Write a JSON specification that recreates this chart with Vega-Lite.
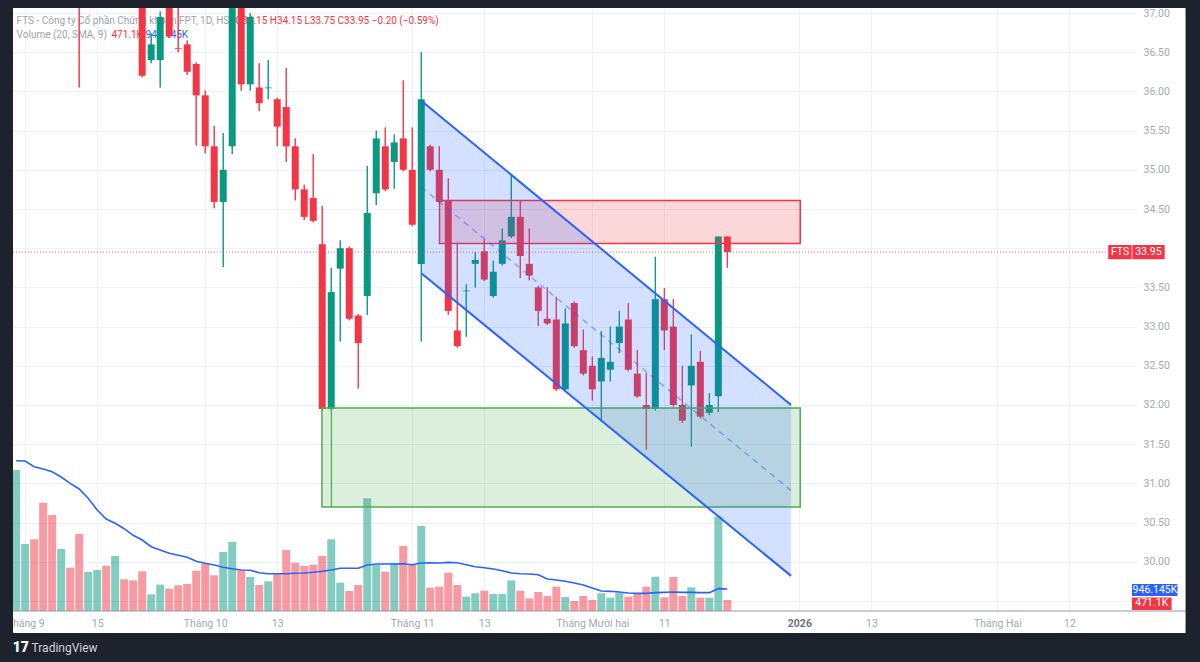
{
  "$schema": "https://vega.github.io/schema/vega-lite/v6.json",
  "width": 1129,
  "height": 603,
  "autosize": {"type": "none"},
  "padding": {"left": 8, "top": 8, "right": 63, "bottom": 51},
  "background": "#ffffff",
  "config": {
    "view": {"stroke": null},
    "font": "Roboto",
    "text": {"font": "Roboto"}
  },
  "datasets": {
    "bars": [
      {"t":-44,"d":"2025-08-29","o":37.6,"h":38.4,"l":37.4,"c":38.2,"v":6049000,"s":6448000},
      {"t":-43,"d":"2025-09-03","o":38.0,"h":38.8,"l":37.8,"c":38.5,"v":2874000,"s":6435000},
      {"t":-42,"d":"2025-09-04","o":38.6,"h":38.9,"l":37.9,"c":38.1,"v":3076000,"s":6190000},
      {"t":-41,"d":"2025-09-05","o":38.2,"h":38.3,"l":37.3,"c":37.5,"v":4646000,"s":6092000},
      {"t":-40,"d":"2025-09-08","o":37.6,"h":37.9,"l":37.2,"c":37.3,"v":4118000,"s":5976000},
      {"t":-39,"d":"2025-09-09","o":37.3,"h":37.9,"l":37.2,"c":37.7,"v":2660000,"s":5749000},
      {"t":-38,"d":"2025-09-10","o":37.8,"h":37.9,"l":37.3,"c":37.5,"v":1858000,"s":5478000},
      {"t":-37,"d":"2025-09-11","o":37.6,"h":37.8,"l":36.05,"c":37.2,"v":3303000,"s":5234000},
      {"t":-36,"d":"2025-09-12","o":37.3,"h":37.7,"l":37.2,"c":37.6,"v":1673000,"s":4835000},
      {"t":-35,"d":"2025-09-15","o":37.5,"h":37.9,"l":37.3,"c":37.8,"v":1759000,"s":4333000},
      {"t":-34,"d":"2025-09-16","o":37.8,"h":37.9,"l":37.4,"c":37.6,"v":1944000,"s":3947000},
      {"t":-33,"d":"2025-09-17","o":37.6,"h":38.0,"l":37.5,"c":37.9,"v":2360000,"s":3762000},
      {"t":-32,"d":"2025-09-18","o":37.9,"h":38.0,"l":37.5,"c":37.6,"v":1359000,"s":3531000},
      {"t":-31,"d":"2025-09-19","o":37.7,"h":37.8,"l":37.3,"c":37.4,"v":1316000,"s":3248000},
      {"t":-30,"d":"2025-09-22","o":37.5,"h":37.6,"l":36.18,"c":36.2,"v":1702000,"s":3046000},
      {"t":-29,"d":"2025-09-23","o":36.4,"h":36.74,"l":36.36,"c":36.6,"v":716000,"s":2758000},
      {"t":-28,"d":"2025-09-24","o":36.4,"h":37.02,"l":36.05,"c":36.95,"v":1130000,"s":2617000},
      {"t":-27,"d":"2025-09-25","o":37.4,"h":37.5,"l":36.68,"c":36.7,"v":958000,"s":2475000},
      {"t":-26,"d":"2025-09-26","o":36.55,"h":37.3,"l":36.5,"c":36.54,"v":1101000,"s":2390000},
      {"t":-25,"d":"2025-09-29","o":36.6,"h":36.65,"l":36.21,"c":36.25,"v":1158000,"s":2304000},
      {"t":-24,"d":"2025-09-30","o":36.35,"h":36.37,"l":35.31,"c":35.95,"v":1730000,"s":2132000},
      {"t":-23,"d":"2025-10-01","o":35.95,"h":36.01,"l":35.21,"c":35.3,"v":2045000,"s":2046000},
      {"t":-22,"d":"2025-10-02","o":35.3,"h":35.56,"l":34.51,"c":34.59,"v":1530000,"s":1973000},
      {"t":-21,"d":"2025-10-03","o":34.59,"h":35.47,"l":33.76,"c":35.0,"v":2531000,"s":1875000},
      {"t":-20,"d":"2025-10-06","o":35.3,"h":37.5,"l":35.2,"c":37.3,"v":2960000,"s":1815000},
      {"t":-19,"d":"2025-10-07","o":37.3,"h":37.4,"l":36.01,"c":36.09,"v":1730000,"s":1759000},
      {"t":-18,"d":"2025-10-08","o":36.09,"h":37.0,"l":36.01,"c":36.95,"v":1459000,"s":1746000},
      {"t":-17,"d":"2025-10-09","o":36.05,"h":36.36,"l":35.75,"c":35.85,"v":1115000,"s":1643000},
      {"t":-16,"d":"2025-10-10","o":36.04,"h":36.4,"l":35.9,"c":36.05,"v":1273000,"s":1600000},
      {"t":-15,"d":"2025-10-13","o":35.9,"h":35.92,"l":35.3,"c":35.55,"v":1616000,"s":1600000},
      {"t":-14,"d":"2025-10-14","o":35.8,"h":36.3,"l":35.1,"c":35.3,"v":2617000,"s":1600000},
      {"t":-13,"d":"2025-10-15","o":35.3,"h":35.4,"l":34.61,"c":34.75,"v":2073000,"s":1617000},
      {"t":-12,"d":"2025-10-16","o":34.75,"h":34.81,"l":34.36,"c":34.4,"v":1930000,"s":1630000},
      {"t":-11,"d":"2025-10-17","o":34.64,"h":35.2,"l":34.33,"c":34.35,"v":1988000,"s":1660000},
      {"t":-10,"d":"2025-10-20","o":34.05,"h":34.54,"l":31.93,"c":31.95,"v":2360000,"s":1703000},
      {"t":-9,"d":"2025-10-21","o":31.95,"h":33.75,"l":31.93,"c":33.44,"v":3076000,"s":1759000},
      {"t":-8,"d":"2025-10-22","o":33.74,"h":34.1,"l":32.81,"c":34.0,"v":1216000,"s":1832000},
      {"t":-7,"d":"2025-10-23","o":34.0,"h":34.02,"l":33.08,"c":33.1,"v":858000,"s":1832000},
      {"t":-6,"d":"2025-10-24","o":33.14,"h":33.16,"l":32.21,"c":32.79,"v":1115000,"s":1832000},
      {"t":-5,"d":"2025-10-27","o":33.39,"h":35.05,"l":33.15,"c":34.45,"v":4833000,"s":1973000},
      {"t":-4,"d":"2025-10-28","o":34.7,"h":35.5,"l":34.55,"c":35.4,"v":1973000,"s":2016000},
      {"t":-3,"d":"2025-10-29","o":35.3,"h":35.54,"l":34.73,"c":34.75,"v":1687000,"s":2016000},
      {"t":-2,"d":"2025-10-30","o":35.1,"h":35.45,"l":34.76,"c":35.35,"v":2045000,"s":2016000},
      {"t":-1,"d":"2025-10-31","o":35.4,"h":36.14,"l":34.98,"c":35.0,"v":2789000,"s":2030000},
      {"t":0,"d":"2025-11-03","o":35.0,"h":35.54,"l":34.28,"c":34.3,"v":1988000,"s":1987000},
      {"t":1,"d":"2025-11-04","o":33.8,"h":36.5,"l":32.81,"c":35.9,"v":3647000,"s":2059000},
      {"t":2,"d":"2025-11-05","o":35.3,"h":35.32,"l":34.98,"c":35.0,"v":1001000,"s":2073000},
      {"t":3,"d":"2025-11-06","o":35.0,"h":35.3,"l":34.57,"c":34.59,"v":1044000,"s":2059000},
      {"t":4,"d":"2025-11-07","o":34.61,"h":34.89,"l":33.15,"c":33.2,"v":1645000,"s":2088000},
      {"t":5,"d":"2025-11-10","o":32.95,"h":34.07,"l":32.73,"c":32.75,"v":1115000,"s":2073000},
      {"t":6,"d":"2025-11-11","o":33.45,"h":33.54,"l":32.87,"c":33.46,"v":615000,"s":1986000},
      {"t":7,"d":"2025-11-12","o":33.8,"h":33.95,"l":33.5,"c":33.85,"v":758000,"s":1901000},
      {"t":8,"d":"2025-11-13","o":33.96,"h":34.11,"l":33.58,"c":33.6,"v":872000,"s":1858000},
      {"t":9,"d":"2025-11-14","o":33.39,"h":33.84,"l":33.37,"c":33.7,"v":729000,"s":1802000},
      {"t":10,"d":"2025-11-17","o":33.8,"h":34.25,"l":33.78,"c":34.1,"v":729000,"s":1730000},
      {"t":11,"d":"2025-11-18","o":34.15,"h":34.93,"l":34.13,"c":34.4,"v":1316000,"s":1630000},
      {"t":12,"d":"2025-11-19","o":34.4,"h":34.61,"l":33.62,"c":33.9,"v":872000,"s":1600000},
      {"t":13,"d":"2025-11-20","o":33.8,"h":34.25,"l":33.59,"c":33.65,"v":543000,"s":1586000},
      {"t":14,"d":"2025-11-21","o":33.5,"h":33.52,"l":33.01,"c":33.2,"v":815000,"s":1558000},
      {"t":15,"d":"2025-11-24","o":33.1,"h":33.5,"l":33.02,"c":33.04,"v":644000,"s":1373000},
      {"t":16,"d":"2025-11-25","o":33.09,"h":33.38,"l":32.18,"c":32.2,"v":1044000,"s":1330000},
      {"t":17,"d":"2025-11-26","o":32.2,"h":33.23,"l":32.18,"c":33.04,"v":601000,"s":1273000},
      {"t":18,"d":"2025-11-27","o":33.3,"h":33.32,"l":32.73,"c":32.75,"v":429000,"s":1201000},
      {"t":19,"d":"2025-11-28","o":32.7,"h":32.96,"l":32.38,"c":32.4,"v":644000,"s":1115000},
      {"t":20,"d":"2025-12-01","o":32.5,"h":32.62,"l":32.06,"c":32.2,"v":472000,"s":987000},
      {"t":21,"d":"2025-12-02","o":32.3,"h":32.94,"l":31.79,"c":32.6,"v":758000,"s":858000},
      {"t":22,"d":"2025-12-03","o":32.45,"h":33.0,"l":32.3,"c":32.55,"v":572000,"s":844000},
      {"t":23,"d":"2025-12-04","o":32.79,"h":33.2,"l":32.66,"c":33.0,"v":787000,"s":815000},
      {"t":24,"d":"2025-12-05","o":33.09,"h":33.3,"l":32.43,"c":32.45,"v":615000,"s":772000},
      {"t":25,"d":"2025-12-08","o":32.4,"h":32.7,"l":32.09,"c":32.11,"v":729000,"s":758000},
      {"t":26,"d":"2025-12-09","o":32.0,"h":32.41,"l":31.43,"c":31.95,"v":1044000,"s":758000},
      {"t":27,"d":"2025-12-10","o":31.95,"h":33.89,"l":31.93,"c":33.35,"v":1473000,"s":787000},
      {"t":28,"d":"2025-12-11","o":33.35,"h":33.49,"l":32.7,"c":32.95,"v":586000,"s":800000},
      {"t":29,"d":"2025-12-12","o":33.0,"h":33.35,"l":31.98,"c":32.0,"v":1459000,"s":815000},
      {"t":30,"d":"2025-12-15","o":32.0,"h":32.5,"l":31.77,"c":31.8,"v":644000,"s":800000},
      {"t":31,"d":"2025-12-16","o":32.25,"h":32.9,"l":31.47,"c":32.5,"v":1015000,"s":800000},
      {"t":32,"d":"2025-12-17","o":32.55,"h":32.69,"l":31.83,"c":31.85,"v":572000,"s":787000},
      {"t":33,"d":"2025-12-18","o":31.9,"h":32.15,"l":31.87,"c":32.0,"v":572000,"s":787000},
      {"t":34,"d":"2025-12-19","o":32.11,"h":34.15,"l":31.91,"c":34.15,"v":4047000,"s":958000},
      {"t":35,"d":"2025-12-22","o":34.15,"h":34.15,"l":33.75,"c":33.95,"v":471100,"s":946145}
    ],
    "channel": [
      {"t":1.0,"up":35.88,"mid":34.78,"lo":33.68},
      {"t":42.08,"up":32.0,"mid":30.91,"lo":29.82}
    ],
    "zones": [
      {"zone":"resistance","t":3.03,"t2":43.1,"top":34.61,"bottom":34.06},
      {"zone":"support","t":-10.03,"t2":43.1,"top":31.96,"bottom":30.7}
    ]
  },
  "resolve": {"scale": {"y": "independent"}, "axis": {"y": "independent", "x": "independent"}},
  "layer": [
    {
      "data": {"name": "bars"},
      "mark": {"type": "rule", "strokeWidth": 1, "clip": true},
      "encoding": {
        "x": {
          "field": "t", "type": "quantitative",
          "scale": {"domain": [-44.35, 79.95], "nice": false, "zero": false},
          "axis": {
            "title": null,
            "orient": "bottom",
            "values": [-43, -35, -23, -15, 0, 8, 20, 28, 43, 51, 65, 73],
            "labelExpr": "datum.value == -43 ? 'Tháng 9' : datum.value == -35 ? '15' : datum.value == -23 ? 'Tháng 10' : datum.value == -15 ? '13' : datum.value == 0 ? 'Tháng 11' : datum.value == 8 ? '13' : datum.value == 20 ? 'Tháng Mười hai' : datum.value == 28 ? '11' : datum.value == 43 ? '2026' : datum.value == 51 ? '13' : datum.value == 65 ? 'Tháng Hai' : '12'",
            "grid": true,
            "gridColor": "#eef1f7",
            "domain": false,
            "ticks": false,
            "labelPadding": 7,
            "labelFontSize": 10.5,
            "labelFont": "Roboto",
            "labelColor": {"condition": {"test": "datum.value == 43", "value": "#70737d"}, "value": "#a5a8b1"},
            "labelFontWeight": {"condition": {"test": "datum.value == 43", "value": "bold"}, "value": "normal"},
            "labelOverlap": false,
            "labelFlush": false,
            "labelBound": false
          }
        },
        "y": {
          "field": "l", "type": "quantitative",
          "scale": {"domain": [29.372, 37.064], "nice": false, "zero": false},
          "axis": {
            "title": null,
            "orient": "right",
            "values": [29.5, 30, 30.5, 31, 31.5, 32, 32.5, 33, 33.5, 34, 34.5, 35, 35.5, 36, 36.5, 37],
            "labelExpr": "datum.value == 29.5 || datum.value == 34 ? '' : format(datum.value, '.2f')",
            "grid": true,
            "gridColor": "#eef1f7",
            "domain": false,
            "ticks": false,
            "labelPadding": 6,
            "labelFontSize": 10.5,
            "labelFont": "Roboto",
            "labelColor": "#a5a8b1",
            "labelAlign": "left",
            "labelOverlap": false,
            "labelFlush": false
          }
        },
        "y2": {"field": "h"},
        "color": {"condition": {"test": "datum.c >= datum.o", "value": "#089981"}, "value": "#f23645"}
      }
    },
    {
      "data": {"name": "bars"},
      "mark": {"type": "bar", "size": 8, "opacity": 0.5, "clip": true},
      "encoding": {
        "x": {"field": "t", "type": "quantitative", "axis": null},
        "y": {"field": "v", "type": "quantitative", "scale": {"domain": [0, 25868700], "nice": false}, "axis": null},
        "color": {"condition": {"test": "datum.c >= datum.o", "value": "#089981"}, "value": "#f23645"}
      }
    },
    {
      "data": {"name": "bars"},
      "mark": {"type": "line", "color": "#2962ff", "strokeWidth": 1.6, "clip": true},
      "encoding": {
        "x": {"field": "t", "type": "quantitative", "axis": null},
        "y": {"field": "s", "type": "quantitative", "scale": {"domain": [0, 25868700], "nice": false}, "axis": null}
      }
    },
    {
      "data": {"values": [{}]},
      "mark": {"type": "rect", "color": "#2962ff", "clip": false},
      "encoding": {
        "x": {"datum": 79.95, "type": "quantitative", "axis": null},
        "x2": {"datum": 85.0},
        "y": {"datum": 1158000, "type": "quantitative", "scale": {"domain": [0, 25868700], "nice": false}, "axis": null},
        "y2": {"datum": 643500}
      }
    },
    {
      "data": {"values": [{}]},
      "mark": {"type": "text", "text": "946.145K", "color": "#ffffff", "fontSize": 10.5, "align": "center", "baseline": "middle", "clip": false},
      "encoding": {
        "x": {"datum": 82.5, "type": "quantitative", "axis": null},
        "y": {"datum": 901000, "type": "quantitative", "scale": {"domain": [0, 25868700], "nice": false}, "axis": null}
      }
    },
    {
      "data": {"values": [{}]},
      "mark": {"type": "rect", "color": "#f23645", "clip": false},
      "encoding": {
        "x": {"datum": 79.95, "type": "quantitative", "axis": null},
        "x2": {"datum": 84.35},
        "y": {"datum": 579000, "type": "quantitative", "scale": {"domain": [0, 25868700], "nice": false}, "axis": null},
        "y2": {"datum": 43000}
      }
    },
    {
      "data": {"values": [{}]},
      "mark": {"type": "text", "text": "471.1K", "color": "#ffffff", "fontSize": 10.5, "align": "center", "baseline": "middle", "clip": false},
      "encoding": {
        "x": {"datum": 82.15, "type": "quantitative", "axis": null},
        "y": {"datum": 322000, "type": "quantitative", "scale": {"domain": [0, 25868700], "nice": false}, "axis": null}
      }
    },
    {
      "data": {"values": [{}]},
      "mark": {"type": "text", "text": "FTS - Công ty Cổ phần Chứng khoán FPT, 1D, HSX", "color": "#9ea1aa", "fontSize": 10, "align": "left", "baseline": "middle"},
      "encoding": {
        "x": {"datum": -43.95, "type": "quantitative", "axis": null},
        "y": {"datum": 36.898, "type": "quantitative", "scale": {"domain": [29.372, 37.064], "nice": false, "zero": false}, "axis": null}
      }
    },
    {
      "data": {"values": [{}]},
      "mark": {"type": "text", "text": "O34.15  H34.15  L33.75  C33.95  −0.20 (−0.59%)", "color": "#f23645", "fontSize": 10, "align": "left", "baseline": "middle"},
      "encoding": {
        "x": {"datum": -19.65, "type": "quantitative", "axis": null},
        "y": {"datum": 36.898, "type": "quantitative", "scale": {"domain": [29.372, 37.064], "nice": false, "zero": false}, "axis": null}
      }
    },
    {
      "data": {"values": [{}]},
      "mark": {"type": "text", "text": "Volume (20, SMA, 9)", "color": "#9ea1aa", "fontSize": 10, "align": "left", "baseline": "middle"},
      "encoding": {
        "x": {"datum": -43.95, "type": "quantitative", "axis": null},
        "y": {"datum": 36.719, "type": "quantitative", "scale": {"domain": [29.372, 37.064], "nice": false, "zero": false}, "axis": null}
      }
    },
    {
      "data": {"values": [{}]},
      "mark": {"type": "text", "text": "471.1K", "color": "#f23645", "fontSize": 10, "align": "left", "baseline": "middle"},
      "encoding": {
        "x": {"datum": -33.41, "type": "quantitative", "axis": null},
        "y": {"datum": 36.719, "type": "quantitative", "scale": {"domain": [29.372, 37.064], "nice": false, "zero": false}, "axis": null}
      }
    },
    {
      "data": {"values": [{}]},
      "mark": {"type": "text", "text": "946.145K", "color": "#2962ff", "fontSize": 10, "align": "left", "baseline": "middle"},
      "encoding": {
        "x": {"datum": -29.63, "type": "quantitative", "axis": null},
        "y": {"datum": 36.719, "type": "quantitative", "scale": {"domain": [29.372, 37.064], "nice": false, "zero": false}, "axis": null}
      }
    },
    {
      "data": {"name": "bars"},
      "mark": {"type": "rule", "strokeWidth": 1, "clip": true},
      "encoding": {
        "x": {"field": "t", "type": "quantitative", "axis": null},
        "y": {"field": "l", "type": "quantitative", "scale": {"domain": [29.372, 37.064], "nice": false, "zero": false}, "axis": null},
        "y2": {"field": "h"},
        "color": {"condition": {"test": "datum.c >= datum.o", "value": "#089981"}, "value": "#f23645"}
      }
    },
    {
      "data": {"name": "bars"},
      "mark": {"type": "bar", "size": 7, "clip": true},
      "encoding": {
        "x": {"field": "t", "type": "quantitative", "axis": null},
        "y": {"field": "o", "type": "quantitative", "scale": {"domain": [29.372, 37.064], "nice": false, "zero": false}, "axis": null},
        "y2": {"field": "c"},
        "color": {"condition": {"test": "datum.c >= datum.o", "value": "#089981"}, "value": "#f23645"}
      }
    },
    {
      "data": {"name": "zones"},
      "mark": {"type": "rect", "fillOpacity": 0.2, "strokeWidth": 1.5, "clip": true},
      "encoding": {
        "x": {"field": "t", "type": "quantitative", "axis": null},
        "x2": {"field": "t2"},
        "y": {"field": "top", "type": "quantitative", "scale": {"domain": [29.372, 37.064], "nice": false, "zero": false}, "axis": null},
        "y2": {"field": "bottom"},
        "fill": {"field": "zone", "type": "nominal", "scale": {"domain": ["resistance", "support"], "range": ["#f23645", "#4caf50"]}, "legend": null},
        "stroke": {"field": "zone", "type": "nominal", "scale": {"domain": ["resistance", "support"], "range": ["#f23645", "#4caf50"]}, "legend": null}
      }
    },
    {
      "data": {"values": [{}]},
      "mark": {"type": "rule", "color": "#4caf50", "strokeWidth": 1.3},
      "encoding": {
        "x": {"datum": -8.98, "type": "quantitative", "axis": null},
        "y": {"datum": 31.96, "type": "quantitative", "scale": {"domain": [29.372, 37.064], "nice": false, "zero": false}, "axis": null},
        "y2": {"datum": 30.7}
      }
    },
    {
      "data": {"name": "channel"},
      "mark": {"type": "area", "color": "#2962ff", "opacity": 0.2, "clip": true},
      "encoding": {
        "x": {"field": "t", "type": "quantitative", "axis": null},
        "y": {"field": "up", "type": "quantitative", "scale": {"domain": [29.372, 37.064], "nice": false, "zero": false}, "axis": null},
        "y2": {"field": "lo"}
      }
    },
    {
      "data": {"name": "channel"},
      "mark": {"type": "line", "color": "#2962ff", "strokeWidth": 2, "clip": true},
      "encoding": {
        "x": {"field": "t", "type": "quantitative", "axis": null},
        "y": {"field": "up", "type": "quantitative", "scale": {"domain": [29.372, 37.064], "nice": false, "zero": false}, "axis": null}
      }
    },
    {
      "data": {"name": "channel"},
      "mark": {"type": "line", "color": "#2962ff", "strokeWidth": 2, "clip": true},
      "encoding": {
        "x": {"field": "t", "type": "quantitative", "axis": null},
        "y": {"field": "lo", "type": "quantitative", "scale": {"domain": [29.372, 37.064], "nice": false, "zero": false}, "axis": null}
      }
    },
    {
      "data": {"name": "channel"},
      "mark": {"type": "line", "color": "#2962ff", "strokeWidth": 1.5, "opacity": 0.45, "strokeDash": [6, 5], "clip": true},
      "encoding": {
        "x": {"field": "t", "type": "quantitative", "axis": null},
        "y": {"field": "mid", "type": "quantitative", "scale": {"domain": [29.372, 37.064], "nice": false, "zero": false}, "axis": null}
      }
    },
    {
      "data": {"values": [{}]},
      "mark": {"type": "rule", "color": "#f23645", "strokeWidth": 1, "strokeDash": [1, 2], "opacity": 0.8},
      "encoding": {
        "x": {"datum": -44.35, "type": "quantitative", "axis": null},
        "x2": {"datum": 77.31},
        "y": {"datum": 33.95, "type": "quantitative", "scale": {"domain": [29.372, 37.064], "nice": false, "zero": false}, "axis": null}
      }
    },
    {
      "data": {"values": [{}]},
      "mark": {"type": "rect", "color": "#f23645", "clip": false},
      "encoding": {
        "x": {"datum": 77.31, "type": "quantitative", "axis": null},
        "x2": {"datum": 83.58},
        "y": {"datum": 34.04, "type": "quantitative", "scale": {"domain": [29.372, 37.064], "nice": false, "zero": false}, "axis": null},
        "y2": {"datum": 33.86}
      }
    },
    {
      "data": {"values": [{}]},
      "mark": {"type": "rule", "color": "#ffffff", "strokeWidth": 1, "opacity": 0.7, "clip": false},
      "encoding": {
        "x": {"datum": 79.95, "type": "quantitative", "axis": null},
        "y": {"datum": 34.04, "type": "quantitative", "scale": {"domain": [29.372, 37.064], "nice": false, "zero": false}, "axis": null},
        "y2": {"datum": 33.86}
      }
    },
    {
      "data": {"values": [{}]},
      "mark": {"type": "text", "text": "FTS", "color": "#ffffff", "fontSize": 10.5, "align": "center", "baseline": "middle", "clip": false},
      "encoding": {
        "x": {"datum": 78.63, "type": "quantitative", "axis": null},
        "y": {"datum": 33.95, "type": "quantitative", "scale": {"domain": [29.372, 37.064], "nice": false, "zero": false}, "axis": null}
      }
    },
    {
      "data": {"values": [{}]},
      "mark": {"type": "text", "text": "33.95", "color": "#ffffff", "fontSize": 10.5, "align": "center", "baseline": "middle", "clip": false},
      "encoding": {
        "x": {"datum": 81.77, "type": "quantitative", "axis": null},
        "y": {"datum": 33.95, "type": "quantitative", "scale": {"domain": [29.372, 37.064], "nice": false, "zero": false}, "axis": null}
      }
    },
    {
      "data": {"values": [{}]},
      "mark": {"type": "rule", "color": "#9598a1", "strokeWidth": 1, "clip": false},
      "encoding": {
        "x": {"datum": -44.35, "type": "quantitative", "axis": null},
        "x2": {"datum": 85.9},
        "y": {"datum": 29.372, "type": "quantitative", "scale": {"domain": [29.372, 37.064], "nice": false, "zero": false}, "axis": null}
      }
    },
    {
      "data": {"values": [{}]},
      "mark": {"type": "rect", "color": "#1e222d", "clip": false},
      "encoding": {
        "x": {"datum": -60, "type": "quantitative", "axis": null},
        "x2": {"datum": 100},
        "y": {"datum": 37.064, "type": "quantitative", "scale": {"domain": [29.372, 37.064], "nice": false, "zero": false}, "axis": null},
        "y2": {"datum": 39}
      }
    },
    {
      "data": {"values": [{}]},
      "mark": {"type": "rect", "color": "#1e222d", "clip": false},
      "encoding": {
        "x": {"datum": -60, "type": "quantitative", "axis": null},
        "x2": {"datum": 100},
        "y": {"datum": 29.092, "type": "quantitative", "scale": {"domain": [29.372, 37.064], "nice": false, "zero": false}, "axis": null},
        "y2": {"datum": 27}
      }
    },
    {
      "data": {"values": [{}]},
      "mark": {"type": "rect", "color": "#1e222d", "clip": false},
      "encoding": {
        "x": {"datum": -60, "type": "quantitative", "axis": null},
        "x2": {"datum": -44.35},
        "y": {"datum": 27, "type": "quantitative", "scale": {"domain": [29.372, 37.064], "nice": false, "zero": false}, "axis": null},
        "y2": {"datum": 39}
      }
    },
    {
      "data": {"values": [{}]},
      "mark": {"type": "rect", "color": "#1e222d", "clip": false},
      "encoding": {
        "x": {"datum": 85.9, "type": "quantitative", "axis": null},
        "x2": {"datum": 100},
        "y": {"datum": 27, "type": "quantitative", "scale": {"domain": [29.372, 37.064], "nice": false, "zero": false}, "axis": null},
        "y2": {"datum": 39}
      }
    },
    {
      "data": {"values": [{}]},
      "mark": {"type": "text", "text": "17", "color": "#ffffff", "fontSize": 14, "fontWeight": 900, "align": "center", "baseline": "middle", "clip": false},
      "encoding": {
        "x": {"datum": -43.49, "type": "quantitative", "axis": null},
        "y": {"datum": 28.9, "type": "quantitative", "scale": {"domain": [29.372, 37.064], "nice": false, "zero": false}, "axis": null}
      }
    },
    {
      "data": {"values": [{}]},
      "mark": {"type": "text", "text": "TradingView", "color": "#d1d4dc", "fontSize": 12, "align": "left", "baseline": "middle", "clip": false},
      "encoding": {
        "x": {"datum": -42.29, "type": "quantitative", "axis": null},
        "y": {"datum": 28.9, "type": "quantitative", "scale": {"domain": [29.372, 37.064], "nice": false, "zero": false}, "axis": null}
      }
    }
  ]
}
